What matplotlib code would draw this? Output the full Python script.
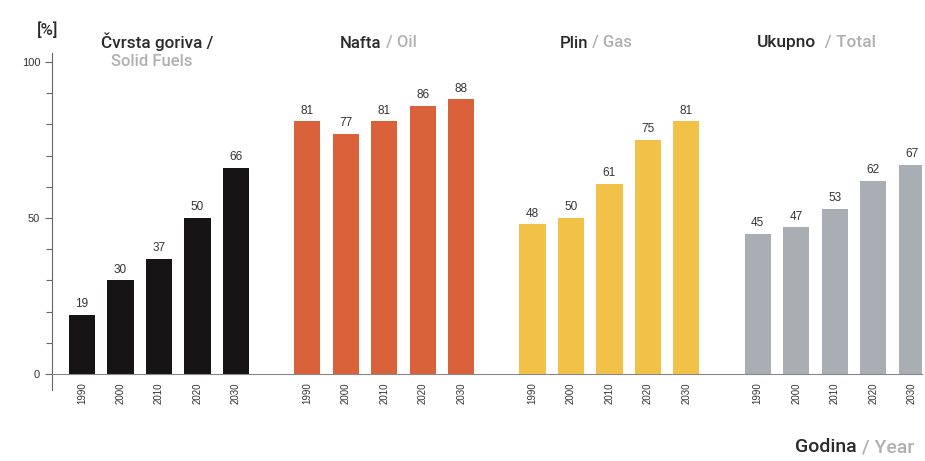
import matplotlib
matplotlib.use("Agg")
import matplotlib.pyplot as plt
import numpy as np

plt.rcParams['font.family'] = ['Liberation Sans', 'DejaVu Sans']

years = ["1990", "2000", "2010", "2020", "2030"]
solid = [19, 30, 37, 50, 66]
oil = [81, 77, 81, 86, 88]
gas = [48, 50, 61, 75, 81]
total = [45, 47, 53, 62, 67]
series = [solid, oil, gas, total]
colors = ["#171415", "#d9623a", "#f1c247", "#a9adb4"]

fig = plt.figure(figsize=(9.25, 4.61), dpi=100)
W, H = 925, 461
ax = fig.add_axes([52 / W, (H - 374) / H, 870 / W, (374 - 62) / H])

group_step = 5.85
positions = []
labels = []
for g, vals in enumerate(series):
    xs = np.arange(len(vals)) + g * group_step
    ax.bar(xs, vals, width=0.68, color=colors[g], zorder=2)
    for x, v in zip(xs, vals):
        ax.text(x, v + 1.5, str(v), ha='center', va='bottom', fontsize=8.5, color='#333333')
    positions.extend(xs)
    labels.extend(years)

ax.set_xlim(-0.78, 21.82)
ax.set_ylim(0, 100)
ax.set_xticks(positions)
ax.set_xticklabels(labels, rotation=90, fontsize=7, color='#333333')
ax.tick_params(axis='x', length=0, pad=6)
ax.set_yticks([0, 50, 100])
ax.set_yticklabels(["0", "50", "100"], fontsize=8, color='#333333')
ax.set_yticks(np.arange(0, 101, 10), minor=True)
ax.tick_params(axis='y', which='both', direction='out', color='#666666', length=4, width=0.8)
ax.tick_params(axis='y', which='major', length=5)
for s in ['top', 'right']:
    ax.spines[s].set_visible(False)
ax.spines['left'].set_color('#666666')
ax.spines['left'].set_bounds(-5, 103)
ax.spines['bottom'].set_color('#888888')

renderer = fig.canvas.get_renderer()
TF = ['Roboto', 'DejaVu Sans']

def two_tone(x, y, a, b, size=12):
    t1 = fig.text(x / W, 1 - y / H, a, fontsize=size, fontweight='medium', family=TF,
                  color='#2a2a2a', va='center', ha='left')
    bb = t1.get_window_extent(renderer=renderer)
    fig.text(bb.x1 / W, 1 - y / H, b, fontsize=size, fontweight='medium', family=TF,
             color='#b0b0b0', va='center', ha='left')

fig.text(101 / W, 1 - 42 / H, "Čvrsta goriva /", fontsize=12.3, fontweight='medium', family=TF,
         color='#2a2a2a', va='center', ha='left')
fig.text(111 / W, 1 - 61 / H, "Solid Fuels", fontsize=12, fontweight='medium', family=TF,
         color='#b0b0b0', va='center', ha='left')
two_tone(340, 43, "Nafta", " / Oil")
two_tone(560, 43, "Plin", " / Gas")
two_tone(757, 43, "Ukupno", "  / Total", size=12.5)
two_tone(795, 447, "Godina", " / Year", size=14)
fig.text(37 / W, 1 - 30 / H, "[%]", fontsize=12, fontweight='medium', family=TF,
         color='#2a2a2a', va='center', ha='left')

fig.savefig("out.png", dpi=100)
